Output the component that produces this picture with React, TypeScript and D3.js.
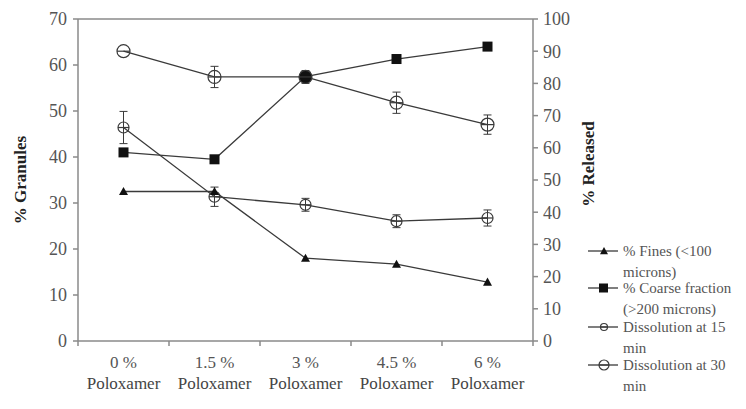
import React from "react";
import * as d3 from "d3";

const categories = ["0 %", "1.5 %", "3 %", "4.5 %", "6 %"];
const finesPct = [32.5, 32.5, 18, 16.7, 12.8];
const coarsePct = [41, 39.5, 57.5, 61.3, 64];
const diss15 = [66.3, 44.8, 42.3, 37.2, 38.2];
const diss15Err = [5, 3, 2, 2, 2.5];
const diss30 = [90, 82, 82, 74, 67.2];
const diss30Err = [0, 3.3, 2, 3.3, 3];
const leftTicks = [0, 10, 20, 30, 40, 50, 60, 70];
const rightTicks = [0, 10, 20, 30, 40, 50, 60, 70, 80, 90, 100];
const legendLabels = [
  ["% Fines (<100", "microns)"],
  ["% Coarse fraction", "(>200 microns)"],
  ["Dissolution at 15", "min"],
  ["Dissolution at 30", "min"],
];

export default function App() {
  const W = 746, H = 409;
  const left = 78, right = 533, top = 19, bottom = 341;
  const x = d3.scaleBand<string>().domain(categories).range([left, right]);
  const cx = (c: string) => (x(c) as number) + x.bandwidth() / 2;
  const yL = d3.scaleLinear().domain([0, 70]).range([bottom, top]);
  const yR = d3.scaleLinear().domain([0, 100]).range([bottom, top]);
  const lineCol = "#3a3a3a";
  const axisCol = "#8a8a8a";
  const textCol = "#555";
  const ts = { fontFamily: '"Liberation Serif"' };

  const mkLine = (vals: number[], y: d3.ScaleLinear<number, number>) =>
    d3.line<number>().x((_, i) => cx(categories[i])).y((v) => y(v))(vals) as string;

  const errBars = (vals: number[], errs: number[]) =>
    vals.map((v, i) =>
      errs[i] > 0 ? (
        <g key={i} stroke={lineCol} strokeWidth={1}>
          <line x1={cx(categories[i])} x2={cx(categories[i])} y1={yR(v - errs[i])} y2={yR(v + errs[i])} />
          <line x1={cx(categories[i]) - 4} x2={cx(categories[i]) + 4} y1={yR(v - errs[i])} y2={yR(v - errs[i])} />
          <line x1={cx(categories[i]) - 4} x2={cx(categories[i]) + 4} y1={yR(v + errs[i])} y2={yR(v + errs[i])} />
        </g>
      ) : null
    );

  const tri = (px: number, py: number, s: number) =>
    `M${px},${py - s}L${px + s},${py + s * 0.8}L${px - s},${py + s * 0.8}Z`;

  const circ = (px: number, py: number, r: number, key: any, fill = "none") => (
    <g key={key}>
      <circle cx={px} cy={py} r={r} fill={fill} stroke={lineCol} strokeWidth={1.2} />
      <line x1={px - r} x2={px + r} y1={py} y2={py} stroke={lineCol} strokeWidth={1.2} />
    </g>
  );

  const legY = [251, 288, 327, 365];
  const bounds = [0, 1, 2, 3, 4, 5].map((i) => left + i * x.bandwidth());

  return (
    <svg width={W} height={H} style={{ position: "absolute", left: 0, top: 0, background: "white" }}>
      <g stroke={axisCol} strokeWidth={1.5} fill="none">
        <line x1={left} x2={left} y1={top} y2={bottom} />
        <line x1={right} x2={right} y1={top} y2={bottom} />
        <line x1={left} x2={right} y1={top} y2={top} />
        <line x1={left} x2={right} y1={bottom} y2={bottom} />
        {leftTicks.map((t) => (
          <line key={t} x1={left - 5} x2={left} y1={yL(t)} y2={yL(t)} />
        ))}
        {rightTicks.map((t) => (
          <line key={t} x1={right} x2={right + 5} y1={yR(t)} y2={yR(t)} />
        ))}
        {bounds.map((b, i) => (
          <line key={i} x1={b} x2={b} y1={bottom} y2={bottom + 5} />
        ))}
      </g>
      {leftTicks.map((t) => (
        <text key={t} style={ts} fill={textCol} fontSize={18} x={left - 11} y={yL(t)} dy="0.35em" textAnchor="end">{t}</text>
      ))}
      {rightTicks.map((t) => (
        <text key={t} style={ts} fill={textCol} fontSize={18} x={right + 10} y={yR(t)} dy="0.35em" textAnchor="start">{t}</text>
      ))}
      {categories.map((c) => (
        <g key={c}>
          <text style={ts} fill={textCol} x={cx(c)} y={368} textAnchor="middle" fontSize={17}>{c}</text>
          <text style={ts} fill="#444" x={cx(c)} y={389} textAnchor="middle" fontSize={17}>Poloxamer</text>
        </g>
      ))}
      <text style={ts} transform="translate(26,180) rotate(-90)" textAnchor="middle" fontWeight="bold" fontSize={17} fill="#222">% Granules</text>
      <text style={ts} transform="translate(594,164) rotate(-90)" textAnchor="middle" fontWeight="bold" fontSize={17} fill="#222">% Released</text>

      <g fill="none" stroke={lineCol} strokeWidth={1.3}>
        <path d={mkLine(finesPct, yL)} />
        <path d={mkLine(coarsePct, yL)} />
        <path d={mkLine(diss15, yR)} />
        <path d={mkLine(diss30, yR)} />
      </g>
      {errBars(diss15, diss15Err)}
      {errBars(diss30, diss30Err)}
      {diss15.map((v, i) => circ(cx(categories[i]), yR(v), 5.5, "a" + i))}
      {finesPct.map((v, i) => (
        <path key={i} d={tri(cx(categories[i]), yL(v), 4.5)} fill="#111" />
      ))}
      {coarsePct.map((v, i) => (
        <rect key={i} x={cx(categories[i]) - 5} y={yL(v) - 5} width={10} height={10} fill="#111" />
      ))}
      {diss30.map((v, i) => circ(cx(categories[i]), yR(v), 6.5, "b" + i, i === 2 ? "#111" : "none"))}

      {legendLabels.map((lab, i) => (
        <g key={i}>
          <line x1={588} x2={618} y1={legY[i]} y2={legY[i]} stroke={lineCol} strokeWidth={1.3} />
          {i === 0 && <path d={tri(604, legY[i], 4)} fill="#111" />}
          {i === 1 && <rect x={599} y={legY[i] - 4.5} width={9} height={9} fill="#111" />}
          {i === 2 && circ(604, legY[i], 3.5, "l2")}
          {i === 3 && circ(604, legY[i], 5, "l3")}
          <text style={ts} x={623} y={legY[i]} dy="0.35em" fontSize={15} fill={textCol}>{lab[0]}</text>
          <text style={ts} x={623} y={legY[i] + 21} dy="0.35em" fontSize={15} fill={textCol}>{lab[1]}</text>
        </g>
      ))}
    </svg>
  );
}
